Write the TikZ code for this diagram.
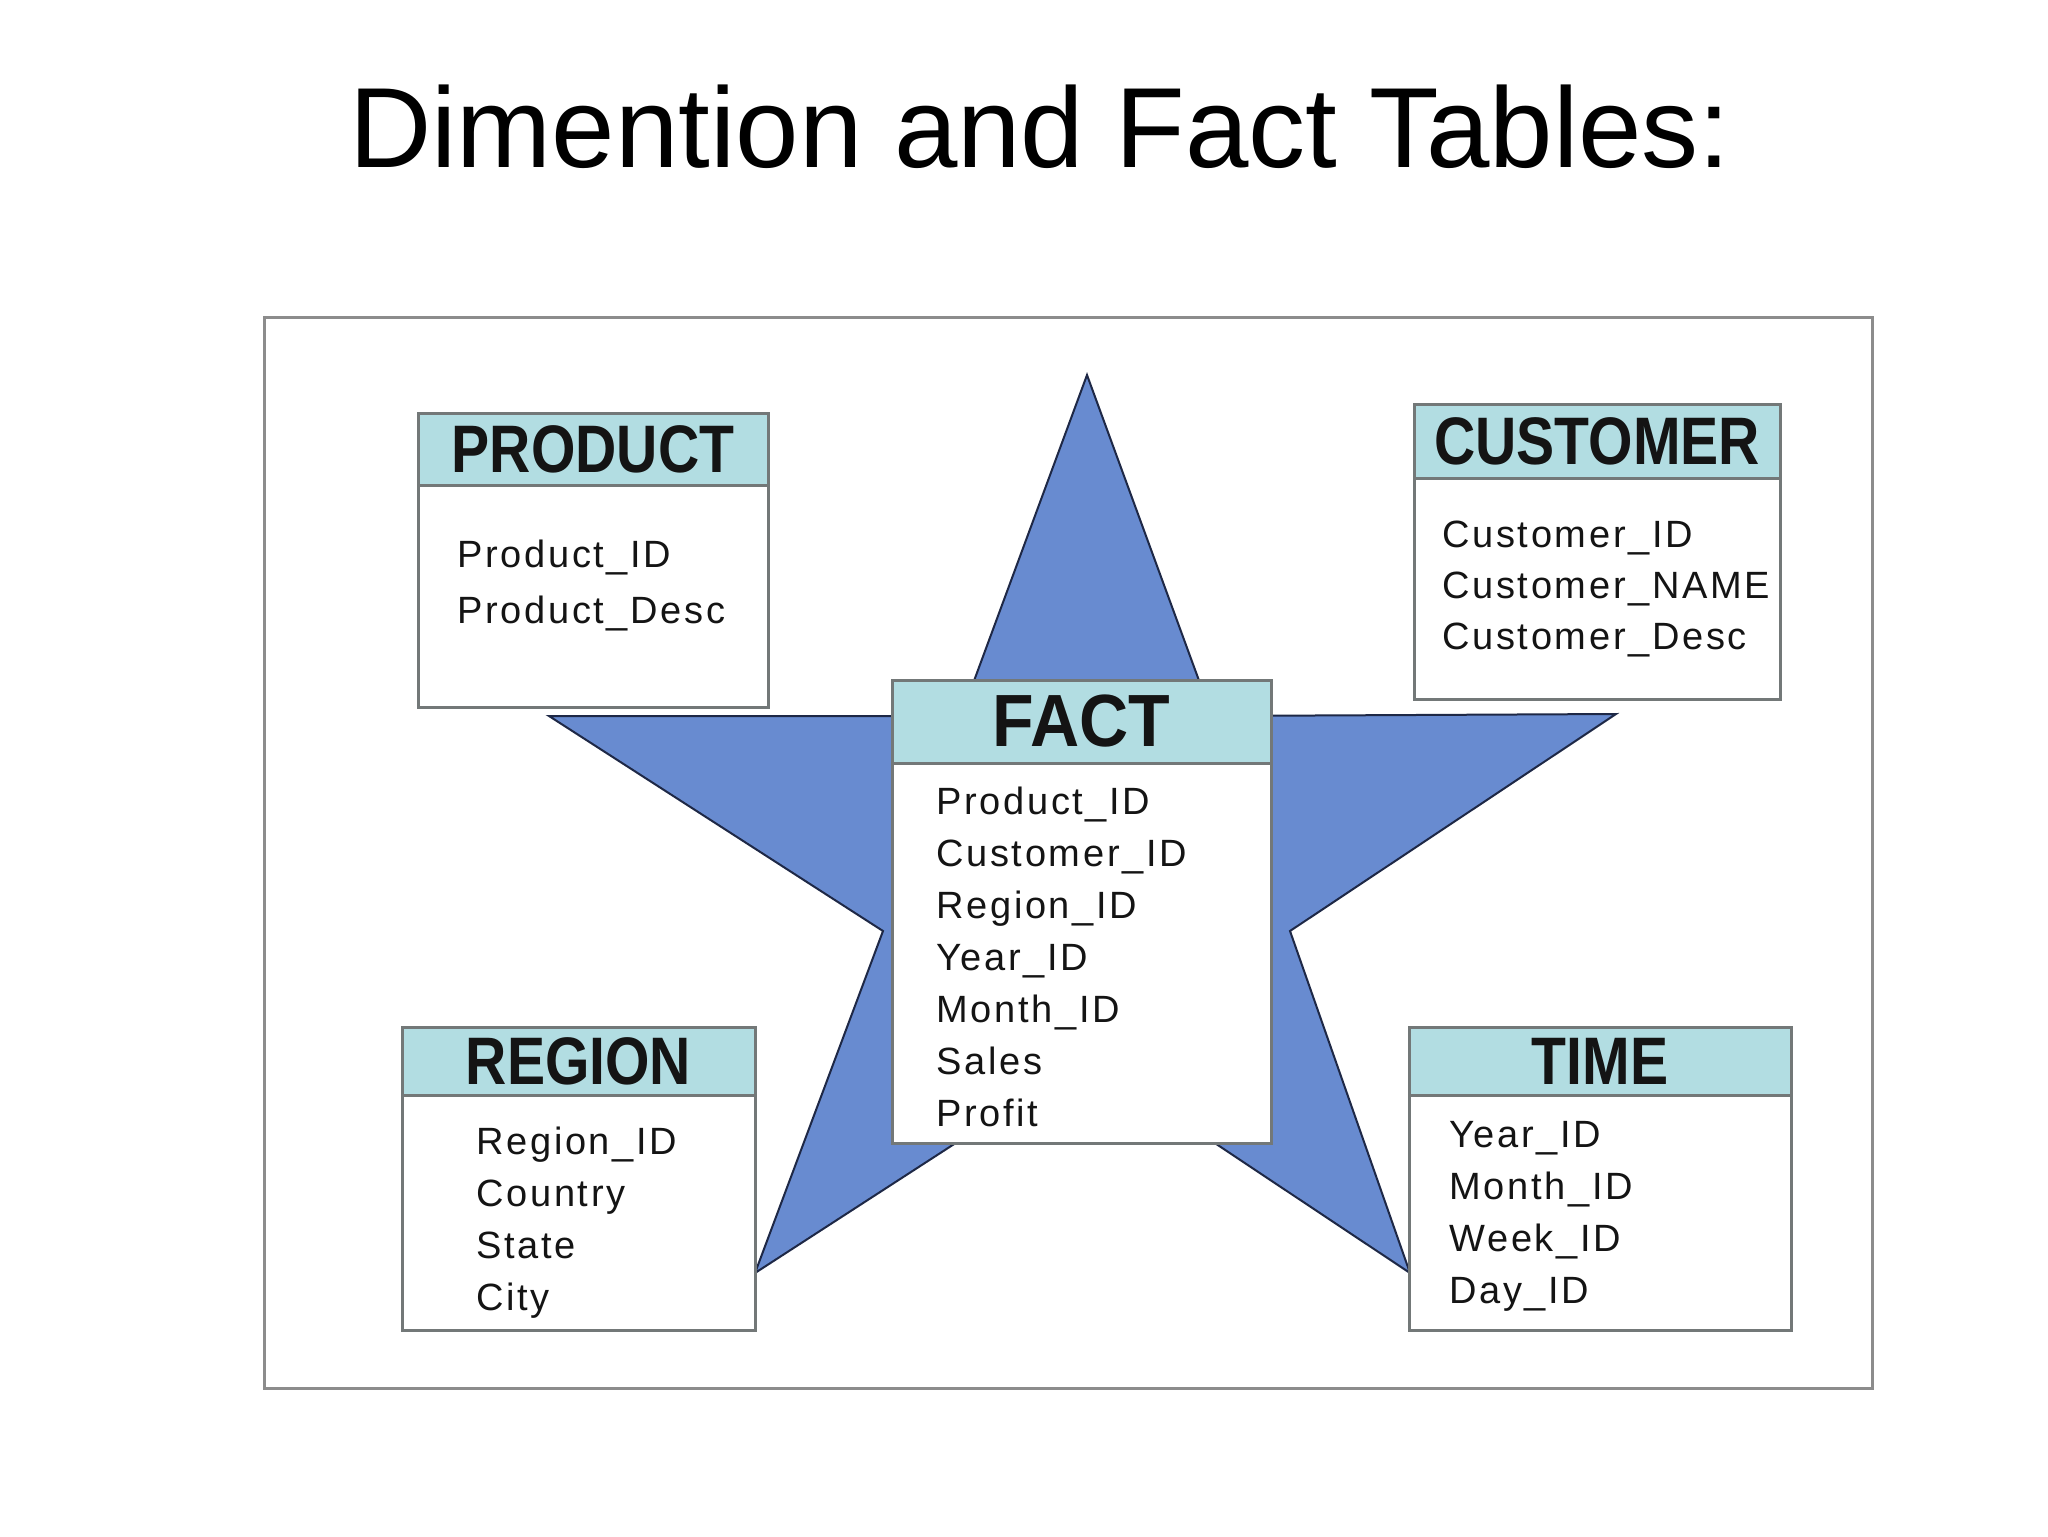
\documentclass[tikz,border=0pt]{standalone}
\usepackage{fontspec}
\setmainfont{Liberation Sans}
\usepackage{graphicx}
\definecolor{starblue}{RGB}{104,139,208}
\definecolor{staredge}{RGB}{30,40,70}
\definecolor{headcyan}{RGB}{178,221,226}
\definecolor{boxgray}{RGB}{115,120,120}
\definecolor{framegray}{RGB}{140,140,140}
\definecolor{txt}{RGB}{20,20,20}
\newcommand{\hdtext}[2]{\scalebox{#1}[1]{#2}}
\begin{document}
\begin{tikzpicture}[x=0.5pt,y=-0.5pt,
  frame/.style={draw=framegray,line width=1.5pt,fill=white,inner sep=0pt},
  tbody/.style={draw=boxgray,line width=1.5pt,fill=white,inner sep=0pt},
  thead/.style={draw=boxgray,line width=1.5pt,fill=headcyan,inner sep=0pt,text=txt,
    font=\fontsize{33.6}{36}\selectfont\bfseries},
  field/.style={anchor=base west,inner sep=0pt,text=txt,
    font=\addfontfeature{LetterSpace=7}\fontsize{19}{24}\selectfont},
  title/.style={anchor=base,inner sep=0pt,font=\fontsize{57}{60}\selectfont}]
\useasboundingbox (0,0) rectangle (2048,1536);
\fill[white] (0,0) rectangle (2048,1536);

\node[title] (title) at (1040,167) {Dimention and Fact Tables:};

\node[frame,minimum width=804pt,minimum height=535.5pt] (frame) at (1068,852.5) {};

% star
\coordinate (s1) at (1087,375);
\coordinate (s2) at (1212,716);
\coordinate (s3) at (1616,714);
\coordinate (s4) at (1290,931);
\coordinate (s5) at (1410,1273);
\coordinate (s6) at (1087,1058);
\coordinate (s7) at (755,1273);
\coordinate (s8) at (883,931);
\coordinate (s9) at (549,716);
\coordinate (s10) at (961,716);
\draw[fill=starblue,draw=staredge,line width=1pt,line join=miter]
  (s1) -- (s2) -- (s3) -- (s4) -- (s5) -- (s6) -- (s7) -- (s8) -- (s9) -- (s10) -- cycle;

% PRODUCT
\node[tbody,minimum width=175pt,minimum height=147pt] (prodbox) at (593,560) {};
\node[thead,minimum width=175pt,minimum height=36pt] (prodhead) at (593,449) {\hdtext{0.85}{PRODUCT}};
\foreach \t [count=\i from 0] in {Product\_ID,Product\_Desc}
  \node[field] (prod-\i) at (457,567+56*\i) {\t};

% CUSTOMER
\node[tbody,minimum width=183pt,minimum height=147.5pt] (custbox) at (1597,551.5) {};
\node[thead,minimum width=183pt,minimum height=37pt] (custhead) at (1597,441) {\hdtext{0.85}{CUSTOMER}};
\foreach \t [count=\i from 0] in {Customer\_ID,Customer\_NAME,Customer\_Desc}
  \node[field] (cust-\i) at (1442,547+51*\i) {\t};

% FACT
\node[tbody,minimum width=189.5pt,minimum height=231.5pt] (factbox) at (1081.5,911.5) {};
\node[thead,minimum width=189.5pt,minimum height=41.5pt,font=\fontsize{37}{40}\selectfont\bfseries] (facthead) at (1081.5,721.5) {\hdtext{0.92}{FACT}};
\foreach \t [count=\i from 0] in {Product\_ID,Customer\_ID,Region\_ID,Year\_ID,Month\_ID,Sales,Profit}
  \node[field] (fact-\i) at (936,814+52*\i) {\t};

% REGION
\node[tbody,minimum width=176.5pt,minimum height=151.5pt] (regbox) at (578.5,1178.5) {};
\node[thead,minimum width=176.5pt,minimum height=34pt] (reghead) at (578.5,1061) {\hdtext{0.85}{REGION}};
\foreach \t [count=\i from 0] in {Region\_ID,Country,State,City}
  \node[field] (reg-\i) at (476,1154+52*\i) {\t};

% TIME
\node[tbody,minimum width=191pt,minimum height=151.5pt] (timebox) at (1600,1178.5) {};
\node[thead,minimum width=191pt,minimum height=34pt] (timehead) at (1600,1061) {\hdtext{0.85}{TIME}};
\foreach \t [count=\i from 0] in {Year\_ID,Month\_ID,Week\_ID,Day\_ID}
  \node[field] (time-\i) at (1449,1147+52*\i) {\t};
\end{tikzpicture}
\end{document}
